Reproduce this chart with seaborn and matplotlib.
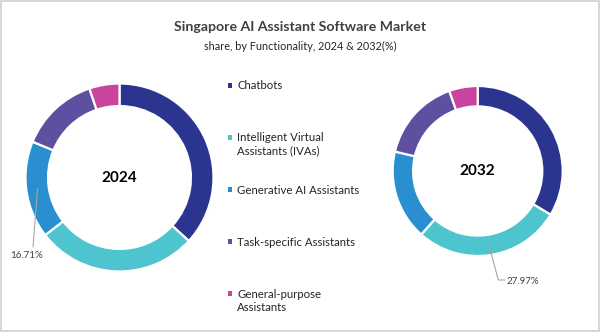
import numpy as np
import matplotlib
matplotlib.use("Agg")
import matplotlib.pyplot as plt
import seaborn as sns
from matplotlib.patches import Rectangle

sns.set_theme(style="white")
plt.rcParams['font.family'] = ['Lato', 'DejaVu Sans']

categories = ["Chatbots", "Intelligent Virtual\nAssistants (IVAs)", "Generative AI Assistants",
              "Task-specific Assistants", "General-purpose\nAssistants"]
share_2024 = [36.8, 27.7, 16.71, 13.6, 5.19]
share_2032 = [33.6, 27.97, 17.1, 15.9, 5.43]
years = ["2024", "2032"]
colors = ["#2B3590", "#4EC4CF", "#2A8FD0", "#5E4FA0", "#C8449E"]

title = "Singapore AI Assistant Software Market"
subtitle = "share, by Functionality, 2024 & 2032(%)"

W, H = 600, 332
fig = plt.figure(figsize=(6, 3.32), dpi=100)
fig.patch.set_facecolor("white")
fig.patches.append(Rectangle((0.002, 0.003), 0.996, 0.994, transform=fig.transFigure,
                             fill=False, edgecolor="#cfcfcf", linewidth=1.2))

def px_axes(x0, y0, x1, y1):
    return fig.add_axes([x0 / W, 1 - y1 / H, (x1 - x0) / W, (y1 - y0) / H])

def donut(ax, values, year, label_idx):
    wedges, _ = ax.pie(values, colors=colors, startangle=90, counterclock=False,
                       wedgeprops=dict(width=0.24, edgecolor="white", linewidth=1.6))
    ax.set_xlim(-1, 1)
    ax.set_ylim(-1, 1)
    ax.set_aspect("equal")
    ax.axis("off")
    ax.text(0, 0, year, ha="center", va="center", fontsize=11, fontweight="bold", color="black")
    w = wedges[label_idx]
    mid = np.deg2rad((w.theta1 + w.theta2) / 2)
    start = (0.88 * np.cos(mid), 0.88 * np.sin(mid))
    return start

# 2024
ax1 = px_axes(25.5, 83.5, 213.5, 271.5)
s = donut(ax1, share_2024, years[0], 2)
ax1.plot([s[0], -0.92], [s[1], -0.74], color="#a6a6a6", lw=0.8, clip_on=False)
ax1.text(-0.99, -0.83, f"{share_2024[2]:.2f}%", ha="center", va="center",
         fontsize=7, color="#404040")

# 2032
ax2 = px_axes(392.7, 86, 562.7, 256)
s = donut(ax2, share_2032, years[1], 1)
ax2.plot([s[0], 0.242, 0.32], [s[1], -1.282, -1.282], color="#a6a6a6", lw=0.8, clip_on=False)
ax2.text(0.34, -1.30, f"{share_2032[1]:.2f}%", ha="left", va="center",
         fontsize=7, color="#404040")

# Legend
axl = px_axes(225, 59, 390, 320)
idx = np.arange(len(categories))
axl.scatter(np.full(len(idx), 0.03), idx, marker="s", s=12, c=colors, linewidths=0)
for i, lab in zip(idx, categories):
    axl.text(0.075, i - 0.095, lab, ha="left", va="top", fontsize=8.2, color="#262626",
             linespacing=1.2)
axl.set_xlim(0, 1)
axl.set_ylim(4.5, -0.5)
axl.axis("off")

fig.text(0.5, 1 - 27 / H, title, ha="center", va="center", fontsize=10.2, fontweight="bold", color="#404040")
fig.text(0.5, 1 - 46 / H, subtitle, ha="center", va="center", fontsize=7.8, color="#262626")

fig.savefig("out.png", dpi=100)
